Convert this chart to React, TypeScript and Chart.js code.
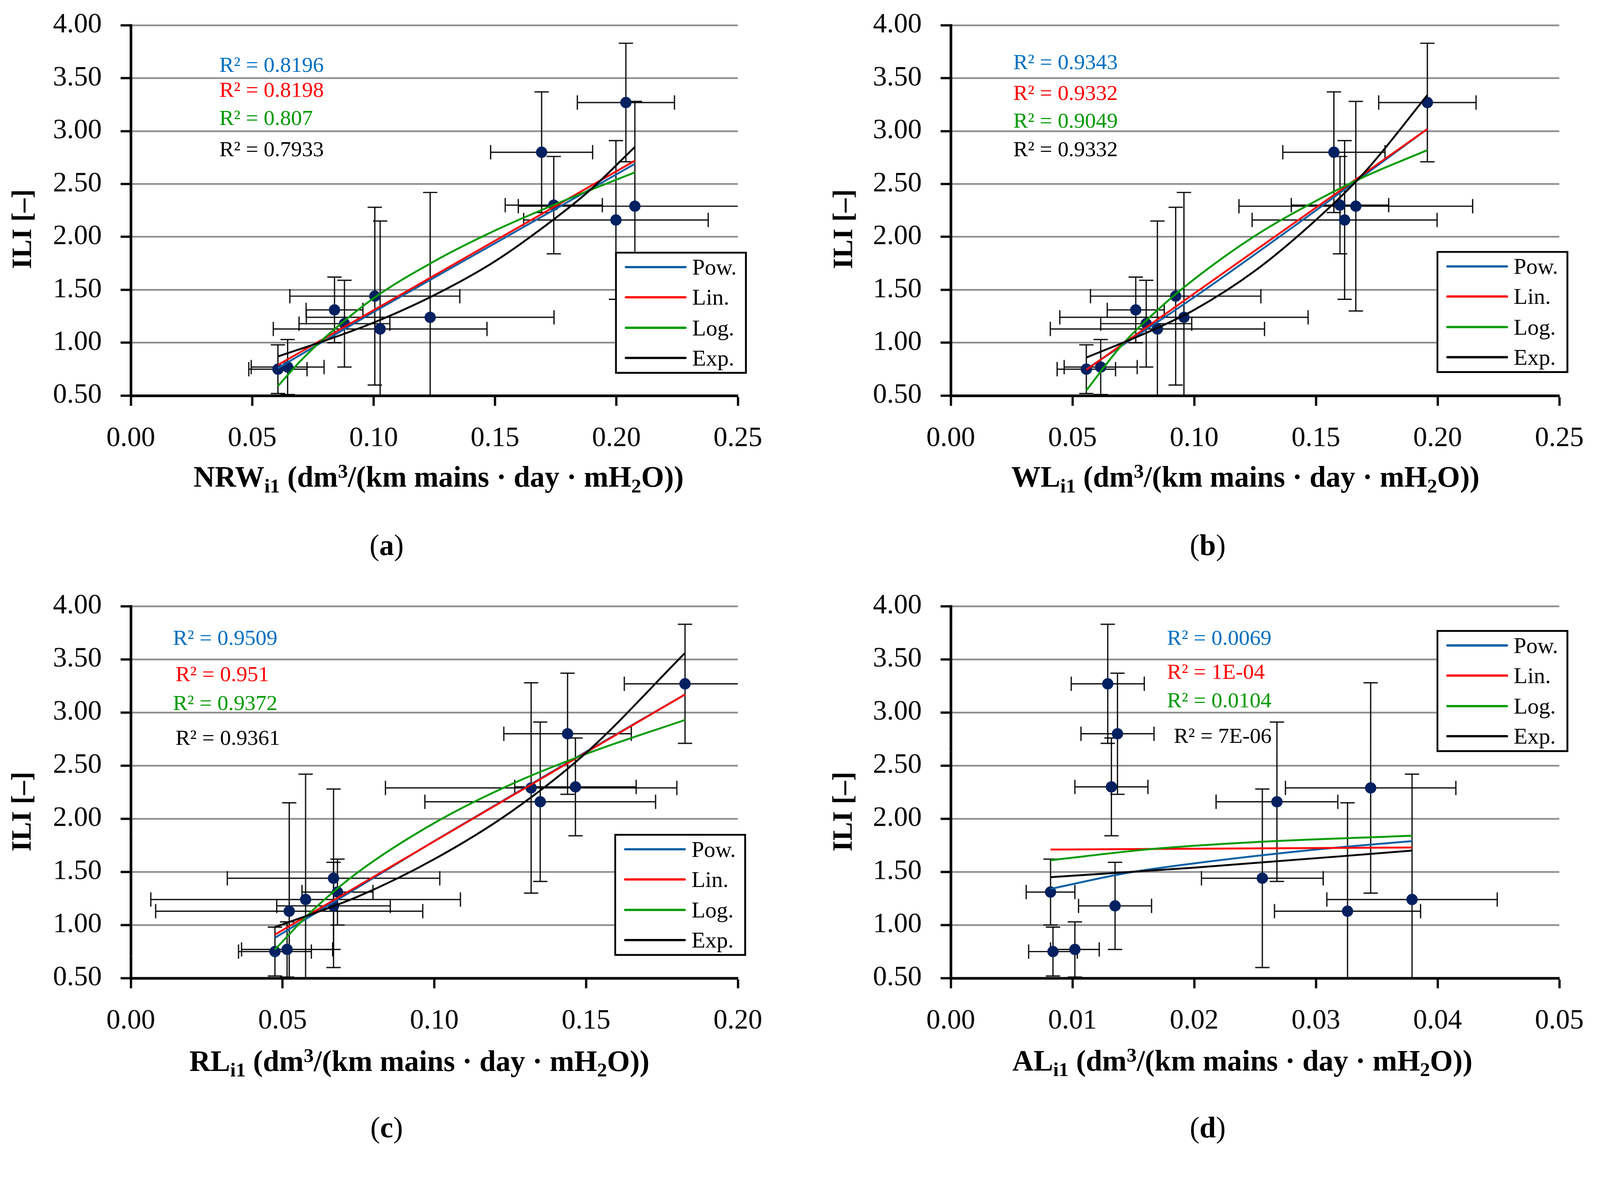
import { useEffect, useRef } from 'react'
import Chart from 'chart.js/auto'

type Pair = [number, number]

const FONT = "'Liberation Serif', 'Times New Roman', serif"
const PAGE_W = 4246
const PAGE_H = 3057

// ILI of the 12 systems, same order in all four panels
const ILI = [0.75, 0.77, 1.31, 1.18, 1.44, 1.13, 1.24, 2.8, 2.3, 2.16, 2.29, 3.27]
const ILI_ERR = [0.23, 0.26, 0.31, 0.41, 0.84, 1.02, 1.18, 0.57, 0.46, 0.75, 0.99, 0.56]

// x values per panel
const NRW = [0.0606, 0.0646, 0.0839, 0.088, 0.1005, 0.1027, 0.1233, 0.1692, 0.1742, 0.1998, 0.2076, 0.2039]
const WL = [0.0557, 0.0616, 0.076, 0.0803, 0.0924, 0.0849, 0.0958, 0.1574, 0.1599, 0.1618, 0.1664, 0.1958]
const RL = [0.0475, 0.0515, 0.0681, 0.0668, 0.0668, 0.0522, 0.0576, 0.1439, 0.1465, 0.1349, 0.1319, 0.1826]
const AL = [0.0084, 0.0102, 0.0082, 0.0135, 0.0256, 0.0326, 0.0379, 0.0137, 0.0132, 0.0268, 0.0345, 0.0129]

const LOSS_ERR = [0.012, 0.015, 0.0117, 0.0187, 0.035, 0.044, 0.051, 0.021, 0.02, 0.038, 0.048, 0.02]
const AL_ERR = [0.002, 0.002, 0.002, 0.003, 0.005, 0.006, 0.007, 0.003, 0.003, 0.005, 0.007, 0.003]

// trend lines
const POW_NRW: Pair[] = [[0.0606, 0.76], [0.1, 1.29], [0.15, 1.94], [0.2076, 2.69]]
const LIN_NRW: Pair[] = [[0.0606, 0.79], [0.2076, 2.72]]
const LOG_NRW: Pair[] = [[0.0606, 0.59], [0.07, 0.83], [0.08, 1.05], [0.1, 1.42], [0.125, 1.77], [0.15, 2.06], [0.175, 2.31], [0.2076, 2.61]]
const EXP_NRW: Pair[] = [[0.0606, 0.87], [0.08, 1.02], [0.1, 1.19], [0.125, 1.45], [0.15, 1.77], [0.175, 2.18], [0.19, 2.46], [0.2076, 2.85]]

const POW_WL: Pair[] = [[0.0557, 0.75], [0.1, 1.43], [0.15, 2.25], [0.1958, 3.02]]
const LIN_WL: Pair[] = [[0.0557, 0.745], [0.1958, 3.02]]
const LOG_WL: Pair[] = [[0.0557, 0.55], [0.07, 0.97], [0.085, 1.31], [0.1, 1.6], [0.125, 2.01], [0.15, 2.34], [0.17, 2.57], [0.1958, 2.82]]
const EXP_WL: Pair[] = [[0.0557, 0.86], [0.08, 1.09], [0.1, 1.31], [0.125, 1.68], [0.15, 2.16], [0.17, 2.61], [0.1958, 3.34]]

const POW_RL: Pair[] = [[0.0475, 0.88], [0.1, 1.79], [0.15, 2.63], [0.1826, 3.17]]
const LIN_RL: Pair[] = [[0.0475, 0.91], [0.1826, 3.17]]
const LOG_RL: Pair[] = [[0.0475, 0.77], [0.06, 1.14], [0.075, 1.5], [0.1, 1.96], [0.125, 2.32], [0.15, 2.61], [0.1826, 2.93]]
const EXP_RL: Pair[] = [[0.0475, 0.98], [0.075, 1.27], [0.1, 1.62], [0.125, 2.06], [0.15, 2.62], [0.1826, 3.56]]

const POW_AL: Pair[] = [[0.0082, 1.34], [0.0145, 1.49], [0.02, 1.58], [0.03, 1.71], [0.0379, 1.79]]
const LIN_AL: Pair[] = [[0.0082, 1.71], [0.0379, 1.73]]
const LOG_AL: Pair[] = [[0.0082, 1.61], [0.0165, 1.715], [0.025, 1.78], [0.0379, 1.84]]
const EXP_AL: Pair[] = [[0.0082, 1.45], [0.02, 1.54], [0.0379, 1.7]]

const R2_NRW = ['0.8196', '0.8198', '0.807', '0.7933']
const R2_WL = ['0.9343', '0.9332', '0.9049', '0.9332']
const R2_RL = ['0.9509', '0.951', '0.9372', '0.9361']
const R2_AL = ['0.0069', '1E-04', '0.0104', '7E-06']

const TREND_LABELS = ['Pow.', 'Lin.', 'Log.', 'Exp.']
const TREND_COLORS = ['#0A5FA3', '#FF0000', '#009A00', '#000000']
const R2_COLORS = ['#0070C0', '#FF0000', '#009A00', '#000000']
const MARKER = '#002060'

interface PanelDef {
  key: string
  xName: string
  x: number[]
  xErr: number[]
  xMax: number
  xStep: number
  trends: Pair[][]
  r2: string[]
  left: number
  top: number
  plot: { left: number; right: number; top: number; bottom: number }
  r2Pos: { x: number; y: number }[]
  legend: { x: number; y: number }
  xTitle: { x: number; y: number }
  yTitle: { x: number; y: number }
  caption: { x: number; y: number }
}

const CANVAS_W = 2123
const CANVAS_H = 1220

const PANELS: PanelDef[] = [
  {
    key: 'a', xName: 'NRW', x: NRW, xErr: LOSS_ERR, xMax: 0.25, xStep: 0.05,
    trends: [POW_NRW, LIN_NRW, LOG_NRW, EXP_NRW], r2: R2_NRW,
    left: 0, top: 0,
    plot: { left: 347, right: 1958, top: 67, bottom: 1050 },
    r2Pos: [{ x: 582, y: 172 }, { x: 582, y: 238 }, { x: 582, y: 313 }, { x: 582, y: 396 }],
    legend: { x: 1632, y: 668 },
    xTitle: { x: 1164, y: 1266 }, yTitle: { x: 57, y: 608 }, caption: { x: 1026, y: 1447 },
  },
  {
    key: 'b', xName: 'WL', x: WL, xErr: LOSS_ERR, xMax: 0.25, xStep: 0.05,
    trends: [POW_WL, LIN_WL, LOG_WL, EXP_WL], r2: R2_WL,
    left: 2123, top: 0,
    plot: { left: 2523, right: 4138, top: 67, bottom: 1050 },
    r2Pos: [{ x: 2689, y: 164 }, { x: 2689, y: 246 }, { x: 2689, y: 320 }, { x: 2689, y: 396 }],
    legend: { x: 3812, y: 666 },
    xTitle: { x: 3305, y: 1266 }, yTitle: { x: 2236, y: 608 }, caption: { x: 3205, y: 1447 },
  },
  {
    key: 'c', xName: 'RL', x: RL, xErr: LOSS_ERR, xMax: 0.2, xStep: 0.05,
    trends: [POW_RL, LIN_RL, LOG_RL, EXP_RL], r2: R2_RL,
    left: 0, top: 1530,
    plot: { left: 347, right: 1958, top: 1609, bottom: 2596 },
    r2Pos: [{ x: 459, y: 1692 }, { x: 466, y: 1789 }, { x: 459, y: 1866 }, { x: 466, y: 1958 }],
    legend: { x: 1630, y: 2213 },
    xTitle: { x: 1113, y: 2816 }, yTitle: { x: 56, y: 2154 }, caption: { x: 1026, y: 2993 },
  },
  {
    key: 'd', xName: 'AL', x: AL, xErr: AL_ERR, xMax: 0.05, xStep: 0.01,
    trends: [POW_AL, LIN_AL, LOG_AL, EXP_AL], r2: R2_AL,
    left: 2123, top: 1530,
    plot: { left: 2523, right: 4138, top: 1609, bottom: 2596 },
    r2Pos: [{ x: 3097, y: 1692 }, { x: 3097, y: 1783 }, { x: 3097, y: 1858 }, { x: 3115, y: 1953 }],
    legend: { x: 3812, y: 1672 },
    xTitle: { x: 3297, y: 2815 }, yTitle: { x: 2235, y: 2154 }, caption: { x: 3205, y: 2993 },
  },
]

function errorBars(xs: number[], ys: number[], xe: number[], ye: number[]) {
  return {
    id: 'errorBars',
    beforeDatasetsDraw(chart: Chart) {
      const { ctx, chartArea } = chart
      const sx = chart.scales.x
      const sy = chart.scales.y
      const cap = 19
      ctx.save()
      ctx.beginPath()
      ctx.rect(chartArea.left, chartArea.top, chartArea.right - chartArea.left, chartArea.bottom - chartArea.top)
      ctx.clip()
      ctx.strokeStyle = '#000'
      ctx.lineWidth = 3.2
      xs.forEach((xv, i) => {
        const px = sx.getPixelForValue(xv)
        const py = sy.getPixelForValue(ys[i])
        const top = sy.getPixelForValue(ys[i] + ye[i])
        const bot = sy.getPixelForValue(ys[i] - ye[i])
        const lx = sx.getPixelForValue(xv - xe[i])
        const rx = sx.getPixelForValue(xv + xe[i])
        ctx.beginPath()
        ctx.moveTo(px, top)
        ctx.lineTo(px, bot)
        ctx.moveTo(px - cap, top)
        ctx.lineTo(px + cap, top)
        ctx.moveTo(px - cap, bot)
        ctx.lineTo(px + cap, bot)
        ctx.moveTo(lx, py)
        ctx.lineTo(rx, py)
        ctx.moveTo(lx, py - cap)
        ctx.lineTo(lx, py + cap)
        ctx.moveTo(rx, py - cap)
        ctx.lineTo(rx, py + cap)
        ctx.stroke()
      })
      ctx.restore()
    },
  }
}

function Panel({ def }: { def: PanelDef }) {
  const canvasRef = useRef<HTMLCanvasElement | null>(null)

  useEffect(() => {
    if (!canvasRef.current) return undefined
    const yWidth = def.plot.left - def.left
    const padRight = def.left + CANVAS_W - def.plot.right
    const padTop = def.plot.top - def.top
    const xHeight = def.top + CANVAS_H - def.plot.bottom
    const tickFont = { family: FONT, size: 74 }

    const chart = new Chart(canvasRef.current, {
      type: 'scatter',
      data: {
        datasets: [
          ...def.trends.map((pts, i) => ({
            label: TREND_LABELS[i],
            data: pts.map(([x, y]) => ({ x, y })),
            showLine: true,
            borderColor: TREND_COLORS[i],
            backgroundColor: TREND_COLORS[i],
            borderWidth: 5,
            pointRadius: 0,
            cubicInterpolationMode: 'monotone' as const,
            fill: false,
            order: 4 - i,
          })),
          {
            label: 'ILI',
            data: def.x.map((x, i) => ({ x, y: ILI[i] })),
            pointRadius: 15,
            pointBackgroundColor: MARKER,
            pointBorderWidth: 0,
            order: 10,
          },
        ],
      },
      options: {
        responsive: false,
        animation: false,
        events: [],
        layout: { padding: { left: 0, right: padRight, top: padTop, bottom: 0 } },
        plugins: {
          legend: { display: false },
          tooltip: { enabled: false },
        },
        scales: {
          x: {
            type: 'linear',
            min: 0,
            max: def.xMax,
            ticks: {
              stepSize: def.xStep,
              callback: (v) => Number(v).toFixed(2),
              font: tickFont,
              color: '#000',
              padding: 43,
              maxRotation: 0,
              autoSkip: false,
            },
            grid: {
              drawOnChartArea: false,
              drawTicks: true,
              tickLength: 27,
              tickWidth: 6,
              tickColor: '#000',
            },
            border: { color: '#000', width: 7 },
            afterFit: (s) => {
              s.height = xHeight
              s.paddingLeft = 0
              s.paddingRight = 0
            },
          },
          y: {
            type: 'linear',
            min: 0.5,
            max: 4,
            ticks: {
              stepSize: 0.5,
              callback: (v) => Number(v).toFixed(2),
              font: tickFont,
              color: '#000',
              padding: 50,
            },
            grid: {
              color: (ctx) => (ctx.tick && Number(ctx.tick.value) === 0.5 ? 'rgba(0,0,0,0)' : '#8C8C8C'),
              lineWidth: 4.5,
              drawTicks: true,
              tickLength: 27,
              tickWidth: 6,
              tickColor: '#000',
            },
            border: { color: '#000', width: 7 },
            afterFit: (s) => {
              s.width = yWidth
              s.paddingTop = 0
              s.paddingBottom = 0
            },
          },
        },
      },
      plugins: [errorBars(def.x, ILI, def.xErr, ILI_ERR)],
    })

    return () => {
      chart.destroy()
    }
  }, [def])

  const sub = { fontSize: '0.68em', verticalAlign: '-0.28em', lineHeight: 0 }
  const sup = { fontSize: '0.68em', verticalAlign: '0.45em', lineHeight: 0 }

  return (
    <>
      <canvas
        ref={canvasRef}
        width={CANVAS_W}
        height={CANVAS_H}
        style={{ position: 'absolute', left: def.left, top: def.top, width: CANVAS_W, height: CANVAS_H }}
      />
      {def.r2.map((v, i) => (
        <div
          key={`r2-${i}`}
          style={{
            position: 'absolute', left: def.r2Pos[i].x, top: def.r2Pos[i].y,
            transform: 'translateY(-50%)', fontSize: 58, lineHeight: 1,
            color: R2_COLORS[i], whiteSpace: 'nowrap',
          }}
        >
          R² = {v}
        </div>
      ))}
      <div
        style={{
          position: 'absolute', left: def.legend.x, top: def.legend.y, width: 350, height: 324,
          border: '5px solid #000', boxSizing: 'border-box', background: '#fff',
        }}
      >
        {TREND_LABELS.map((label, i) => {
          const rowY = [41, 121, 202, 282][i] - 5
          return (
            <div key={label}>
              <div
                style={{
                  position: 'absolute', left: 21, top: rowY - 3, width: 164, height: 6,
                  background: TREND_COLORS[i], borderRadius: 3,
                }}
              />
              <div
                style={{
                  position: 'absolute', left: 200, top: rowY, transform: 'translateY(-50%)',
                  fontSize: 60, lineHeight: 1, whiteSpace: 'nowrap',
                }}
              >
                {label}
              </div>
            </div>
          )
        })}
      </div>
      <div
        style={{
          position: 'absolute', left: def.xTitle.x, top: def.xTitle.y,
          transform: 'translate(-50%, -50%)', fontSize: 78, fontWeight: 'bold',
          whiteSpace: 'nowrap', lineHeight: 1,
        }}
      >
        {def.xName}
        <sub style={sub}>i1</sub> (dm<sup style={sup}>3</sup>/(km mains · day · mH<sub style={sub}>2</sub>O))
      </div>
      <div
        style={{
          position: 'absolute', left: def.yTitle.x, top: def.yTitle.y,
          transform: 'translate(-50%, -50%) rotate(-90deg)', fontSize: 74, fontWeight: 'bold',
          whiteSpace: 'nowrap', lineHeight: 1,
        }}
      >
        ILI [–]
      </div>
      <div
        style={{
          position: 'absolute', left: def.caption.x, top: def.caption.y,
          transform: 'translate(-50%, -50%)', fontSize: 78, whiteSpace: 'nowrap', lineHeight: 1,
        }}
      >
        (<b>{def.key}</b>)
      </div>
    </>
  )
}

function viewportScale() {
  if (typeof window === 'undefined') return 1
  const w = document.documentElement.clientWidth || window.innerWidth || PAGE_W
  return w / PAGE_W
}

export default function App() {
  const k = viewportScale()
  return (
    <div style={{ width: PAGE_W * k, height: PAGE_H * k, overflow: 'hidden', background: '#fff' }}>
      <style>{'html,body{margin:0;overflow:hidden;background:#fff}'}</style>
      <div
        style={{
          position: 'relative', width: PAGE_W, height: PAGE_H, background: '#fff',
          fontFamily: FONT, color: '#000', overflow: 'hidden',
          transform: `scale(${k})`, transformOrigin: '0 0',
        }}
      >
        {PANELS.map((p) => (
          <Panel key={p.key} def={p} />
        ))}
      </div>
    </div>
  )
}
